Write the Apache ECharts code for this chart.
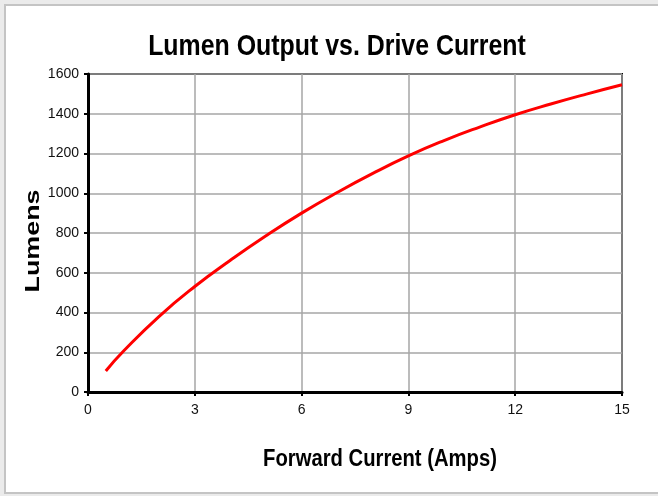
<!DOCTYPE html>
<html><head><meta charset="utf-8">
<script src="https://cdn.jsdelivr.net/npm/echarts@6/dist/echarts.min.js"></script>
<style>
html,body{margin:0;padding:0;background:#ebebeb;width:658px;height:496px;overflow:hidden;}
#frame{position:absolute;left:4px;top:4px;width:660px;height:486px;background:#fff;border:2px solid #c4c4c4;border-right:none;}
#chart{position:absolute;left:0;top:0;width:658px;height:496px;}
</style></head>
<body><div id="frame"></div><div id="chart"></div>
<script>
const currentAmps = [0.5, 1, 2, 3, 4, 5, 6, 7, 8, 9, 10, 11, 12, 13, 14, 15];
const lumens = [106, 206, 381, 531, 663, 786, 900, 1004, 1100, 1188, 1265, 1333, 1395, 1449, 1499, 1546];
const xTicks = [0, 3, 6, 9, 12, 15];
const yTicks = [0, 200, 400, 600, 800, 1000, 1200, 1400, 1600];
const titleText = 'Lumen Output vs. Drive Current';
const xName = 'Forward Current (Amps)';
const yName = 'Lumens';

const sans = '"Liberation Sans", Arial, sans-serif';
const chart = echarts.init(document.getElementById('chart'), null, {renderer: 'canvas'});
chart.setOption({
  backgroundColor: 'transparent',
  animation: false,
  graphic: [
    {type: 'text', x: 337, y: 47, scaleX: 0.83,
     style: {text: titleText, font: 'bold 30px ' + sans, fill: '#000', textAlign: 'center', textVerticalAlign: 'middle'}},
    {type: 'text', x: 380, y: 460, scaleX: 0.88,
     style: {text: xName, font: 'bold 23px ' + sans, fill: '#000', textAlign: 'center', textVerticalAlign: 'middle'}},
    {type: 'text', x: 33, y: 241, rotation: Math.PI / 2, scaleX: 1.28,
     style: {text: yName, font: 'bold 21px ' + sans, fill: '#000', textAlign: 'center', textVerticalAlign: 'middle'}}
  ],
  grid: {left: 88, right: 36, top: 74, bottom: 104, show: true, borderColor: '#000', borderWidth: 2, backgroundColor: '#fff'},
  xAxis: {
    type: 'value', min: 0, max: 15, interval: 3,
    axisLine: {show: true, lineStyle: {color: '#000', width: 3}},
    axisTick: {show: true, length: 4, lineStyle: {color: '#000', width: 2}},
    axisLabel: {fontFamily: sans, fontSize: 14, color: '#111', margin: 11,
      formatter: v => xTicks.includes(v) ? String(v) : ''},
    splitLine: {show: true, lineStyle: {color: '#a6a6a6', width: 1.5}}
  },
  yAxis: {
    type: 'value', min: 0, max: 1600, interval: 200,
    axisLine: {show: true, lineStyle: {color: '#000', width: 3}},
    axisTick: {show: true, length: 4, lineStyle: {color: '#000', width: 2}},
    axisLabel: {fontFamily: sans, fontSize: 14, color: '#111', margin: 9,
      formatter: v => yTicks.includes(v) ? String(v) : ''},
    splitLine: {show: true, lineStyle: {color: '#a6a6a6', width: 1.5}}
  },
  series: [{
    type: 'line', smooth: 0.5, showSymbol: false,
    data: currentAmps.map((x, i) => [x, lumens[i]]),
    lineStyle: {color: '#ff0000', width: 3}
  }]
});
</script></body></html>
